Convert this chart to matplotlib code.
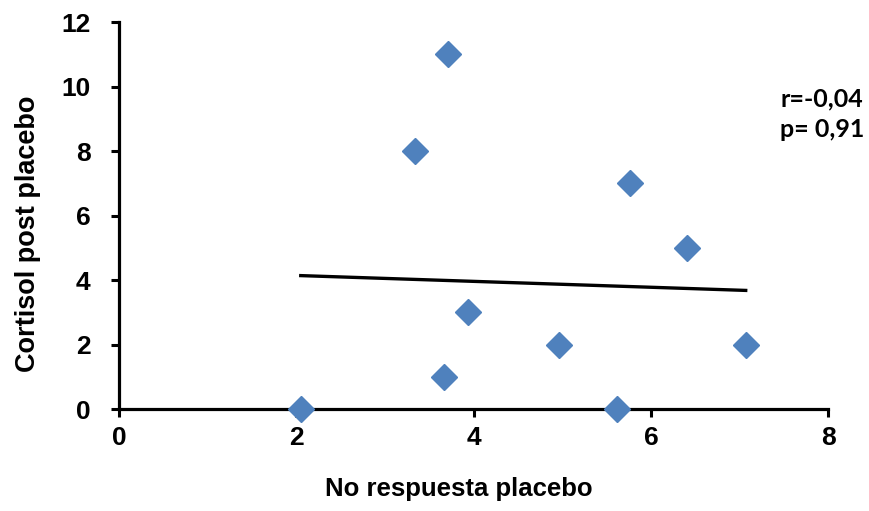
import numpy as np
import matplotlib
matplotlib.use('Agg')
import matplotlib.pyplot as plt

# no-response score vs. post-placebo cortisol
no_respuesta = [2.05, 3.34, 3.67, 3.71, 3.94, 4.96, 5.62, 5.76, 6.41, 7.07]
cortisol     = [0, 8, 1, 11, 3, 2, 0, 7, 5, 2]

x_ticks = [0, 2, 4, 6, 8]
y_ticks = [0, 2, 4, 6, 8, 10, 12]

plt.rcParams['font.family'] = ['Liberation Sans', 'DejaVu Sans']

fig = plt.figure(figsize=(8.69, 5.11), dpi=100)
ax = fig.add_axes([0.137, 0.1996, 0.816, 0.757])

ax.plot(no_respuesta, cortisol, linestyle='none', marker='D', markersize=13,
        color='#4F81BD', zorder=3, clip_on=False)

# least squares trend line over the data range
slope, intercept = np.polyfit(no_respuesta, cortisol, 1)
xs = np.array([min(no_respuesta), max(no_respuesta)])
ax.plot(xs, slope * xs + intercept, color='black', lw=2.4, zorder=2)

ax.set_xlim(0, 8)
ax.set_ylim(0, 12)
ax.set_xticks(x_ticks)
ax.set_yticks(y_ticks)
ax.tick_params(labelsize=19, width=2.2, length=6, direction='out')
ax.tick_params(axis='x', pad=6)
ax.tick_params(axis='y', pad=14.5)
for lbl in ax.get_xticklabels() + ax.get_yticklabels():
    lbl.set_fontweight('bold')

for side in ('top', 'right'):
    ax.spines[side].set_visible(False)
for side in ('left', 'bottom'):
    ax.spines[side].set_linewidth(2.3)

ax.set_xlabel('No respuesta placebo', fontsize=18.5, fontweight='bold')
ax.set_ylabel('Cortisol post placebo', fontsize=19.5, fontweight='bold')
ax.xaxis.set_label_coords(0.479, -0.176)
ax.yaxis.set_label_coords(-0.110, 0.4535)

ax.text(7.46, 9.15, 'r=-0,04\np= 0,91', fontsize=18, fontweight='bold',
        family=['Lato', 'DejaVu Sans'], linespacing=1.38, va='center', ha='left')

fig.savefig('out.png', dpi=100)
